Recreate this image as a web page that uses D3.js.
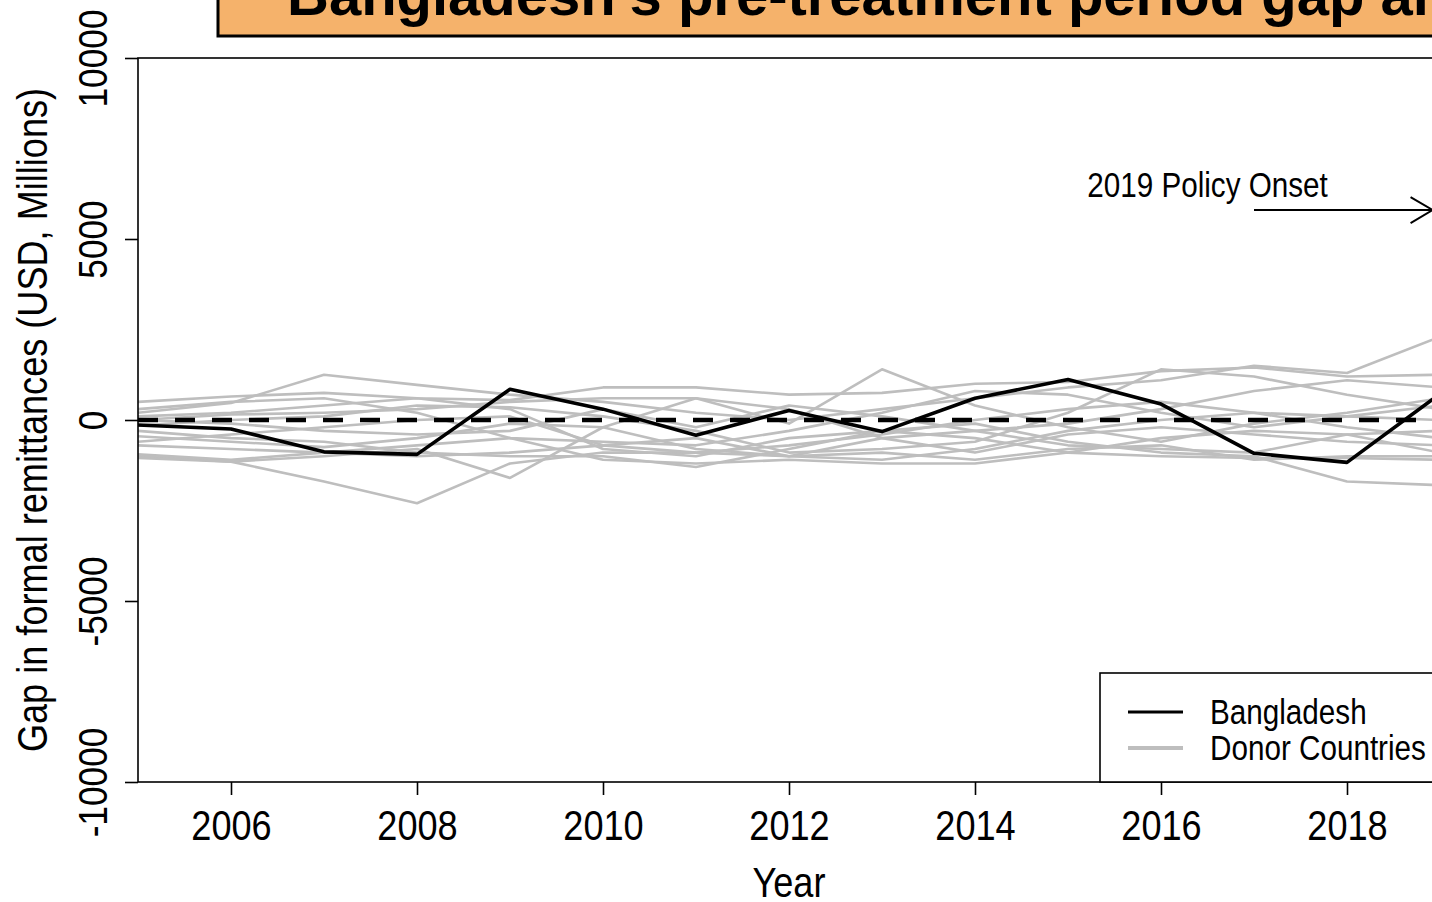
<!DOCTYPE html>
<html>
<head>
<meta charset="utf-8">
<script src="https://cdn.jsdelivr.net/npm/d3@7"></script>
<style>
  html, body { margin: 0; padding: 0; background: #ffffff; overflow: hidden; }
  svg { display: block; }
</style>
</head>
<body>
<svg id="chart" width="1432" height="902"></svg>
<script>
// ---- data -------------------------------------------------------------
const years = [2005, 2006, 2007, 2008, 2009, 2010, 2011, 2012, 2013, 2014, 2015, 2016, 2017, 2018, 2019];

// Gap in formal remittances, USD millions
const bangladesh = [-140, -250, -880, -950, 850, 300, -420, 260, -320, 600, 1120, 440, -920, -1170, 720];

const donor01 = [500, 650, 750, 600, 550, 900, 900, 700, 750, 1000, 1050, 1350, 1450, 1200, 1250];
const donor02 = [200, 470, 1250, 970, 700, 500, 200, 0, 300, 600, 900, 1100, 1500, 1300, 2300];
const donor03 = [0, 150, 200, 300, 500, 600, 600, -100, 1400, 400, -200, -600, -100, 200, 600];
const donor04 = [-150, 0, 100, 400, 350, 100, -300, -900, -800, -600, 200, 1400, 1200, 700, 300];
const donor05 = [-450, -600, -750, -500, -100, -200, -800, -1000, -500, -300, -100, 300, 800, 1100, 900];
const donor06 = [-1000, -1150, -1700, -2300, -1200, -900, -900, -700, -400, 0, 300, 500, 200, -200, -500];
const donor07 = [-1050, -1150, -1000, -800, -1600, -200, 600, 300, -500, -900, -400, -200, -400, -600, -700];
const donor08 = [-950, -1100, -900, -700, -500, -1100, -1200, -1100, -1200, -1200, -900, -1000, -1050, -1050, -1100];
const donor09 = [-300, -500, -600, -900, -1000, -1000, -1300, -800, -300, -100, -600, -900, -1000, -1700, -1800];
const donor10 = [100, 200, 400, 600, 300, -800, -1000, -500, -300, -500, -900, -500, -300, -400, -900];
const donor11 = [-700, -800, -900, -1000, -900, -700, -900, -1000, -1100, -800, -300, 0, 200, 100, 0];
const donor12 = [300, 500, 600, 200, -500, -600, -700, -300, 200, 800, 700, 200, -200, 100, 400];
const donor13 = [0, -100, -300, -400, -300, 300, -200, 400, 100, -300, -700, -800, -900, -400, -300];
const donor14 = [-600, -400, -200, 0, 100, -700, -500, -1000, -900, -1100, -800, -700, -1100, -1000, -1000];

const donors = [donor01, donor02, donor03, donor04, donor05, donor06, donor07,
                donor08, donor09, donor10, donor11, donor12, donor13, donor14];

const xTicks = [2006, 2008, 2010, 2012, 2014, 2016, 2018];
const yTicks = [-10000, -5000, 0, 5000, 10000];

const titleText = "Bangladesh's pre-treatment period gap and donor countries' gaps";
const xTitle = "Year";
const yTitle = "Gap in formal remittances (USD, Millions)";
const legendLabels = ["Bangladesh", "Donor Countries"];
const onsetLabel = "2019 Policy Onset";
const onsetYear = 2019;

// ---- layout -----------------------------------------------------------
const svg = d3.select("#chart");
const FONT = "'Liberation Sans', Arial, 'DejaVu Sans', sans-serif";
const NARROW = 0.86;          // horizontal compression of the plot's lettering

const plotL = 138, plotR = 1440, plotT = 58, plotB = 782;
const x = d3.scaleLinear().domain([2005, 2019]).range([plotL, plotR]);
const y = d3.scaleLinear().domain([-10000, 10000]).range([plotB, plotT]);

function label(parent, str, px, py, size, opts = {}) {
  const rot = opts.rotate || 0;
  return parent.append("text")
    .attr("transform", `translate(${px},${py}) rotate(${rot}) scale(${opts.sx || NARROW},1)`)
    .attr("text-anchor", opts.anchor || "middle")
    .attr("font-family", FONT)
    .attr("font-size", size)
    .attr("font-weight", opts.weight || "normal")
    .attr("fill", "#000")
    .text(str);
}

// ---- lines ------------------------------------------------------------
svg.append("defs").append("clipPath").attr("id", "plotClip")
  .append("rect").attr("x", plotL).attr("y", plotT)
  .attr("width", plotR - plotL).attr("height", plotB - plotT);

const lines = svg.append("g").attr("clip-path", "url(#plotClip)");
const line = d3.line().x((d, i) => x(years[i])).y(d => y(d));

lines.selectAll("path.donor").data(donors).join("path")
  .attr("class", "donor")
  .attr("d", line)
  .attr("fill", "none")
  .attr("stroke", "#bebebe")
  .attr("stroke-width", 2.6)
  .attr("stroke-linejoin", "round");

lines.append("line")
  .attr("x1", plotL).attr("x2", plotR)
  .attr("y1", y(0)).attr("y2", y(0))
  .attr("stroke", "#000").attr("stroke-width", 4.5)
  .attr("stroke-dasharray", "20,17");

lines.append("path")
  .datum(bangladesh)
  .attr("d", line)
  .attr("fill", "none")
  .attr("stroke", "#000")
  .attr("stroke-width", 3.6)
  .attr("stroke-linejoin", "round");

// ---- frame and axes ---------------------------------------------------
svg.append("rect")
  .attr("x", plotL).attr("y", plotT)
  .attr("width", plotR - plotL).attr("height", plotB - plotT)
  .attr("fill", "none").attr("stroke", "#000").attr("stroke-width", 1.6);

const xAxis = svg.append("g").attr("transform", `translate(0,${plotB})`)
  .call(d3.axisBottom(x).tickValues(xTicks).tickSize(13).tickFormat(d => String(d)));
xAxis.select(".domain").remove();
xAxis.selectAll(".tick line").attr("stroke", "#000").attr("stroke-width", 1.6);
xAxis.selectAll(".tick text")
  .attr("y", null).attr("dy", null)
  .attr("transform", `translate(0,58) scale(${NARROW},1)`)
  .attr("font-family", FONT).attr("font-size", 42).attr("fill", "#000");

const yAxis = svg.append("g").attr("transform", `translate(${plotL},0)`)
  .call(d3.axisLeft(y).tickValues(yTicks).tickSize(13).tickFormat(d => String(d)));
yAxis.select(".domain").remove();
yAxis.selectAll(".tick line").attr("stroke", "#000").attr("stroke-width", 1.6);
yAxis.selectAll(".tick text")
  .attr("x", null).attr("dy", null)
  .attr("text-anchor", "middle")
  .attr("transform", `translate(-31,0) rotate(-90) scale(${NARROW},1)`)
  .attr("font-family", FONT).attr("font-size", 41).attr("fill", "#000");

label(svg, xTitle, (plotL + plotR) / 2, 897, 42);
label(svg, yTitle, 47, (plotT + plotB) / 2, 42, { rotate: -90 });

// ---- policy onset annotation -----------------------------------------
const arrowY = y(5800);
const tipX = x(onsetYear - 0.08);
svg.append("line")
  .attr("x1", x(2017)).attr("x2", tipX)
  .attr("y1", arrowY).attr("y2", arrowY)
  .attr("stroke", "#000").attr("stroke-width", 2);
svg.append("path")
  .attr("d", `M${tipX - 22},${arrowY - 13} L${tipX},${arrowY} L${tipX - 22},${arrowY + 13}`)
  .attr("fill", "none").attr("stroke", "#000").attr("stroke-width", 2);
label(svg, onsetLabel, x(2016.5), y(6500) + 12, 34.5);

// ---- legend -----------------------------------------------------------
const lg = svg.append("g");
lg.append("rect")
  .attr("x", 1100).attr("y", 673)
  .attr("width", plotR - 1100).attr("height", plotB - 673)
  .attr("fill", "#fff").attr("stroke", "#000").attr("stroke-width", 1.6);
const legendStyles = [{ c: "#000", w: 3 }, { c: "#bebebe", w: 4 }];
legendLabels.forEach((t, i) => {
  const ly = 712 + i * 36;
  lg.append("line").attr("x1", 1128).attr("x2", 1183).attr("y1", ly).attr("y2", ly)
    .attr("stroke", legendStyles[i].c).attr("stroke-width", legendStyles[i].w);
  label(lg, t, 1210, ly + 12, 34.5, { anchor: "start" });
});

// ---- title banner -----------------------------------------------------
const tb = svg.append("g");
tb.append("rect").attr("x", 218).attr("y", -20).attr("width", 1400).attr("height", 56)
  .attr("fill", "#f5b26b").attr("stroke", "#000").attr("stroke-width", 3);
label(tb, titleText, 287, 15, 58, { anchor: "start", weight: "bold", sx: 1 });
</script>
</body>
</html>
